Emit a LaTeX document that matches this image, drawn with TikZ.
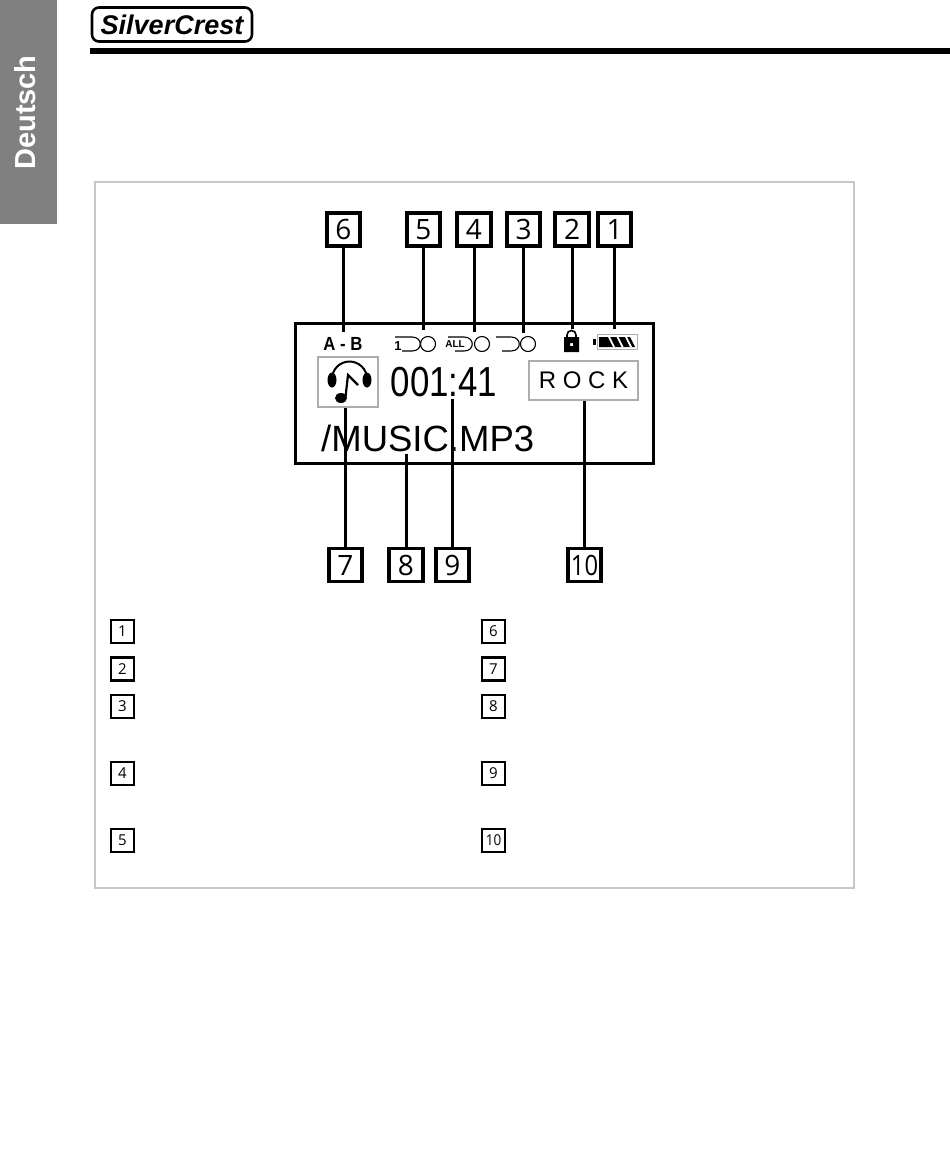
\documentclass[tikz,border=0pt]{standalone}
\usepackage{fontspec}
\usepackage{tikz}
\usetikzlibrary{positioning}
\setmainfont{Liberation Sans}
\newfontfamily\numfont{Open Sans}
\definecolor{tabgray}{gray}{0.5}
\definecolor{panelgray}{gray}{0.78}
\definecolor{lcdgray}{gray}{0.68}
\newcommand{\fsize}[1]{\fontsize{#1}{#1}\selectfont}

\begin{document}
\begin{tikzpicture}[
      x=1pt, y=-1pt,
      numbox/.style={rectangle, draw=black, fill=white, line width=3.6pt, minimum width=33.5pt, minimum height=33pt, inner sep=0pt, font=\numfont\fsize{28}},
      keybox/.style={rectangle, draw=black, fill=white, line width=2.4pt, minimum size=23pt, inner sep=0pt, font=\numfont\fsize{15}},
      stem/.style={line width=3pt, black},
      lcdbox/.style={rectangle, draw=lcdgray, line width=1.2pt, inner sep=0pt},
      lcdtext/.style={inner sep=0pt, anchor=base west},
      loopline/.style={line width=1.1pt, black}
    ]
    \useasboundingbox (0,0) rectangle (950,1176);

    % page head
    \node[fill=tabgray, minimum width=57pt, minimum height=224pt, inner sep=0pt] (tab) at (28.5,112) {};
    \node[rotate=90, text=white, inner sep=0pt, font=\bfseries\fsize{29}] (lang) at (25,112.5) {Deutsch};
    \node[draw=black, line width=2.6pt, rounded corners=7pt, minimum width=160pt, minimum height=34pt, inner sep=0pt, font=\bfseries\itshape\fsize{27}] (logo) at (172,24.5) {SilverCrest};
    \node[fill=black, minimum width=860pt, minimum height=6pt, inner sep=0pt] (rule) at (520,51) {};
    \node[draw=panelgray, line width=2pt, minimum width=759pt, minimum height=706pt, inner sep=0pt] (panel) at (474.5,534.5) {};

    % display
    \node[draw=black, line width=3pt, minimum width=358pt, minimum height=140pt, inner sep=0pt] (lcd) at (474.5,393.5) {};
    \node[lcdbox, minimum width=60pt, minimum height=50pt] (iconbox) at (348,382) {};
    \node[lcdbox, minimum width=109pt, minimum height=39pt, font=\fsize{24}] (rock) at (583.5,380.5) {R O C K};
    \node[inner sep=0pt, font=\bfseries\fsize{19}] (ab) at (343,343.5) {\scalebox{.88}[1]{A - B}};
    \node[inner sep=0pt, font=\fsize{42}] (time) at (444,382) {\scalebox{.83}[1]{001:41}};
    \node[lcdtext, font=\fsize{36.5}] (file) at (321,451) {/MUSIC.MP3};

    % headphones
    \draw[line width=2pt] (332,379) arc[start angle=180, end angle=360, radius=17.5];
    \fill (332,380) ellipse[x radius=4.5, y radius=7.5];
    \fill (367,380) ellipse[x radius=4.5, y radius=7.5];
    \fill (341,398) ellipse[x radius=6, y radius=5];
    \draw[line width=2.2pt] (345.5,397) -- (348,375) -- (358,385);

    % repeat marks
    \draw[loopline] (395,337) -- (412,337) .. controls (423,337) and (423,351) .. (412,351) -- (402,351);
    \node[inner sep=0pt, font=\bfseries\fsize{13}] (one) at (398,346) {1};
    \draw[loopline] (428,344) circle[radius=7.5];
    \draw[loopline] (448,337) -- (464,337) .. controls (475,337) and (475,351) .. (464,351) -- (455,351);
    \node[inner sep=0pt, fill=white, font=\bfseries\fsize{10}] (all) at (455,344.5) {ALL};
    \draw[loopline] (482,344) circle[radius=7.5];
    \draw[loopline] (496,337) -- (511,337) .. controls (522,337) and (522,351) .. (511,351) -- (502,351);
    \draw[loopline] (528,344) circle[radius=7.5];

    % lock
    \draw[line width=1.6pt] (567,338) -- (567,335) arc[start angle=180, end angle=360, radius=4.5] -- (576,338);
    \fill[even odd rule] (564,337) rectangle (579,352) (570,343) rectangle (573,346);

    % battery
    \draw[lcdgray, line width=1pt] (597,334.5) rectangle (637,349.5);
    \fill (593,339) rectangle (596,345);
    \fill (599,337) -- (630,337) -- (635,347) -- (599,347) -- cycle;
    \foreach \i in {0,1,2}
      \fill[white] (608+8.5*\i,337) -- (610+8.5*\i,337) -- (615+8.5*\i,347) -- (613+8.5*\i,347) -- cycle;

    % top numbers
    \node[numbox] (num6) at (343.5,229.5) {6};
    \node[numbox] (num5) at (423.5,229.5) {5};
    \node[numbox] (num4) at (474,229.5) {4};
    \node[numbox] (num3) at (523.5,229.5) {3};
    \node[numbox] (num2) at (572,229.5) {2};
    \node[numbox] (num1) at (614.5,229.5) {1};

    % bottom numbers
    \node[numbox] (num7) at (345.5,565) {7};
    \node[numbox] (num8) at (406,565) {8};
    \node[numbox] (num9) at (452.5,565) {9};
    \node[numbox] (num10) at (584.5,565) {\scalebox{.85}[1]{10}};

    \coordinate (tip6) at (343.5,332);
    \coordinate (tip5) at (423.5,330);
    \coordinate (tip4) at (474,332);
    \coordinate (tip3) at (523.5,333);
    \coordinate (tip2) at (572,329);
    \coordinate (tip1) at (614.5,329);
    \coordinate (tip8) at (406,454);
    \coordinate (tip9) at (452.5,399);

    \draw[stem] (num6) -- (tip6);
    \draw[stem] (num5) -- (tip5);
    \draw[stem] (num4) -- (tip4);
    \draw[stem] (num3) -- (tip3);
    \draw[stem] (num2) -- (tip2);
    \draw[stem] (num1) -- (tip1);
    \draw[stem] (num7) -- (iconbox.south -| num7);
    \draw[stem] (num8) -- (tip8);
    \draw[stem] (num9) -- (tip9);
    \draw[stem] (num10) -- (rock.south -| num10);

    % key
    \node[keybox] (key1) at (122.5,631.5) {1};
    \node[keybox] (key2) at (122.5,669) {2};
    \node[keybox] (key3) at (122.5,706.5) {3};
    \node[keybox] (key4) at (122.5,773.5) {4};
    \node[keybox] (key5) at (122.5,840.5) {5};
    \node[keybox] (key6) at (493.5,631.5) {6};
    \node[keybox] (key7) at (493.5,669) {7};
    \node[keybox] (key8) at (493.5,706.5) {8};
    \node[keybox] (key9) at (493.5,773.5) {9};
    \node[keybox] (key10) at (493.5,840.5) {\scalebox{.9}[1]{10}};
  \end{tikzpicture}
\end{document}
